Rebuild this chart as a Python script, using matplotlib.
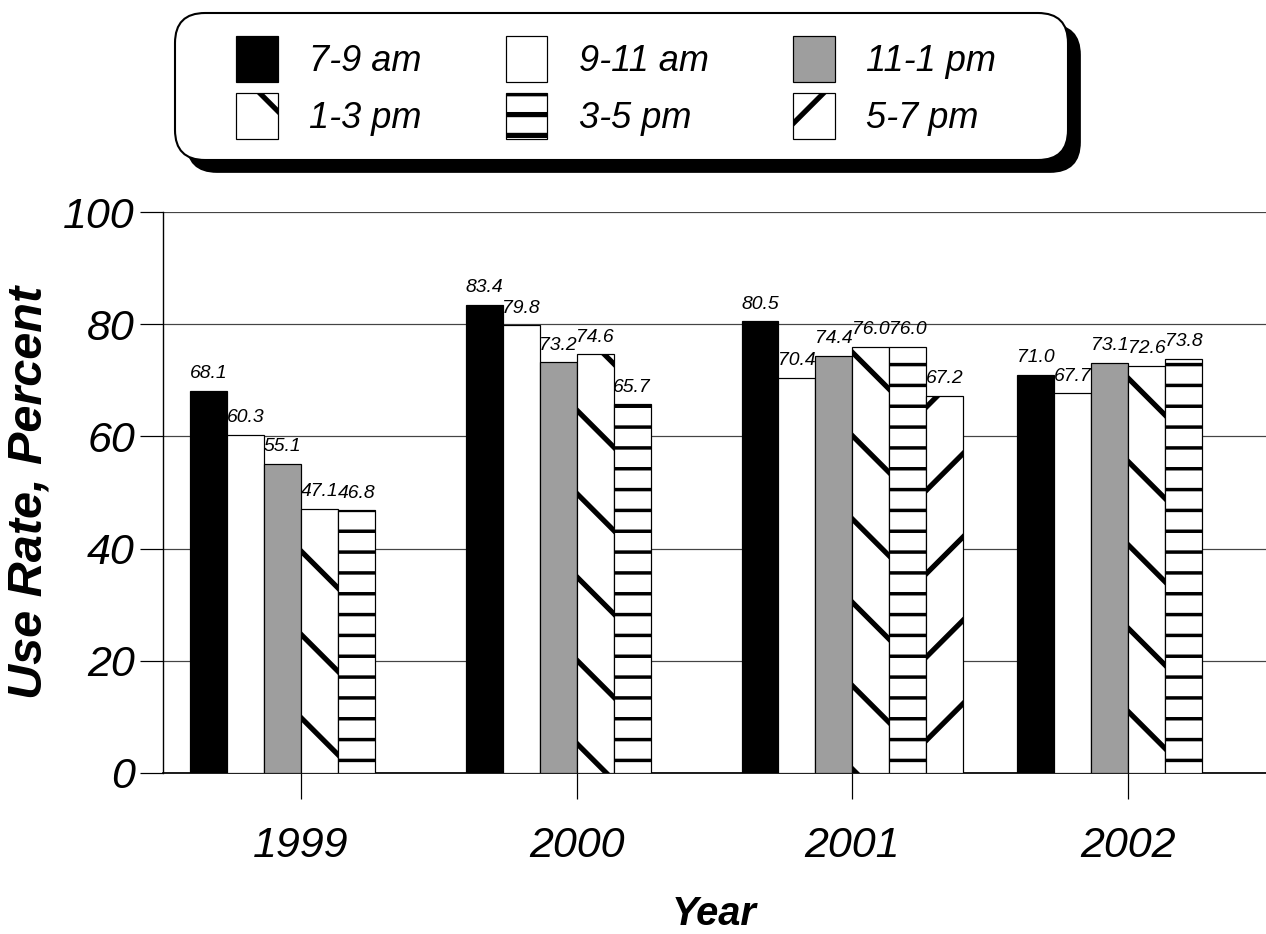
import numpy as np
import matplotlib
matplotlib.use("Agg")
import matplotlib.pyplot as plt
from matplotlib.patches import FancyBboxPatch
from matplotlib.transforms import IdentityTransform

# data
years = ['1999', '2000', '2001', '2002']
series = ['7-9 am', '9-11 am', '11-1 pm', '1-3 pm', '3-5 pm', '5-7 pm']
am_7_9 = [68.1, 83.4, 80.5, 71.0]
am_9_11 = [60.3, 79.8, 70.4, 67.7]
pm_11_1 = [55.1, 73.2, 74.4, 73.1]
pm_1_3 = [47.1, 74.6, 76.0, 72.6]
pm_3_5 = [46.8, 65.7, 76.0, 73.8]
pm_5_7 = [np.nan, np.nan, 67.2, np.nan]
values = [am_7_9, am_9_11, pm_11_1, pm_1_3, pm_3_5, pm_5_7]

# styles per series
faces = ['black', 'white', '#9e9e9e', 'white', 'white', 'white']
hatches = [None, None, None, '\\', '--', '/']
hatch_lw = [0, 0, 0, 1.5, 1.0, 1.5]

DPI = 250
W, H = 1266, 934
plt.rcParams['font.family'] = ['Liberation Sans', 'DejaVu Sans']
plt.rcParams['hatch.linewidth'] = 1.5

fig = plt.figure(figsize=(W / DPI, H / DPI), dpi=DPI)
ax = fig.add_axes([163 / W, 1 - 773 / H, 1103 / W, 561 / H])

x = np.arange(len(years))
bw = 0.134
for i, (name, vals) in enumerate(zip(series, values)):
    bars = ax.bar(x + (i - 2.5) * bw, vals, bw, color=faces[i], edgecolor='black',
                  linewidth=0.35, hatch=hatches[i], label=name, zorder=3)
    if hatches[i] is not None:
        for b in bars:
            if hasattr(b, 'set_hatch_linewidth'):
                b.set_hatch_linewidth(hatch_lw[i])
    ax.bar_label(bars, fmt='%.1f', padding=2.5, fontsize=5.6, fontstyle='italic', zorder=4)

ax.set_xlim(-0.5, 3.5)
ax.set_ylim(0, 100)
ax.set_yticks([0, 20, 40, 60, 80, 100])
ax.set_xticks(x)
ax.set_xticklabels(years)
ax.tick_params(axis='y', length=6.6, width=0.35, pad=1.5, labelsize=12.4)
ax.tick_params(axis='x', length=7.6, width=0.35, pad=7.8, labelsize=12.4)
for lab in ax.get_xticklabels() + ax.get_yticklabels():
    lab.set_fontstyle('italic')

ax.grid(axis='y', color='#444444', linewidth=0.35, zorder=0)
ax.set_axisbelow(True)
for s in ['top', 'right']:
    ax.spines[s].set_visible(False)
ax.spines['left'].set_linewidth(0.4)
ax.spines['bottom'].set_linewidth(0.5)

ax.set_ylabel('Use Rate, Percent', fontsize=14, fontweight='bold', fontstyle='italic', va='center')
ax.yaxis.set_label_coords((29 - 163) / 1103, 0.5)
ax.set_xlabel('Year', fontsize=11.5, fontweight='bold', fontstyle='italic', va='bottom')
ax.xaxis.set_label_coords(0.5, (773 - 933) / 561)

# legend filled row by row, frame drawn separately with a hard shadow
handles, labels = ax.get_legend_handles_labels()
order = [0, 3, 1, 4, 2, 5]
fig.legend([handles[k] for k in order], [labels[k] for k in order], ncol=3,
           loc='upper left', bbox_to_anchor=(236 / W, 1 - 36 / H),
           frameon=False, prop={'size': 10.4, 'style': 'italic'},
           handlelength=1.16, handleheight=1.58, handletextpad=0.86,
           labelspacing=0.30, columnspacing=2.33, borderpad=0, borderaxespad=0)

shadow = FancyBboxPatch((187, H - 172), 893, 147, boxstyle='round,pad=0,rounding_size=30',
                        transform=IdentityTransform(), facecolor='black', edgecolor='black', lw=0.5)
frame = FancyBboxPatch((175, H - 160), 893, 147, boxstyle='round,pad=0,rounding_size=30',
                       transform=IdentityTransform(), facecolor='white', edgecolor='black', lw=0.6)
fig.add_artist(shadow)
fig.add_artist(frame)

fig.savefig('out.png', dpi=DPI)
